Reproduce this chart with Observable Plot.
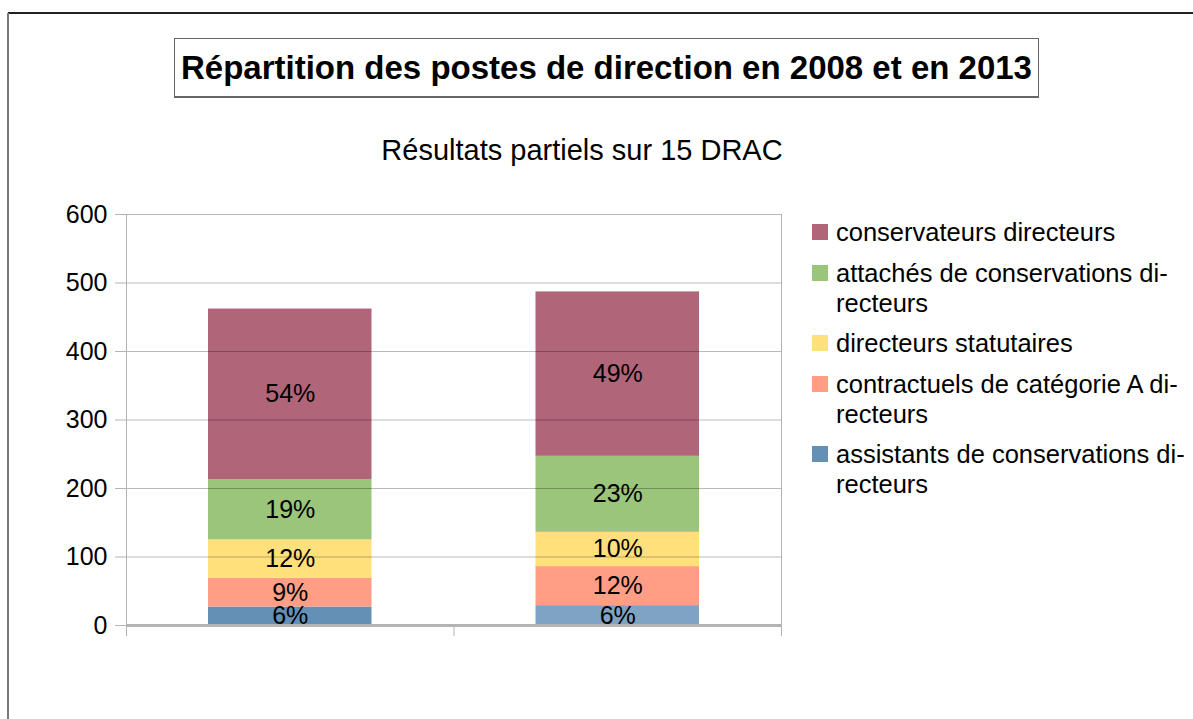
<!DOCTYPE html>
<html><head><meta charset="utf-8">
<script src="https://cdn.jsdelivr.net/npm/d3@7"></script>
<script src="https://cdn.jsdelivr.net/npm/@observablehq/plot@0.6"></script>
<style>
body{margin:0;background:#fff;font-family:"Liberation Sans",Arial,sans-serif;}
#wrap{position:relative;width:1193px;height:719px;overflow:hidden;background:#fff;}
#frameTop{position:absolute;left:8px;top:12px;width:1185px;height:0;border-top:2px solid #222;}
#frameLeft{position:absolute;left:7px;top:13px;width:0;height:710px;border-left:2px solid #7a7a7a;}
#title{position:absolute;left:174px;top:38px;width:863px;height:57px;border:1px solid #666;border-bottom:2px solid #666;
  font-weight:bold;font-size:33px;line-height:57px;text-align:center;color:#000;}
#subtitle{position:absolute;left:0;width:1164px;top:133px;text-align:center;font-size:29px;line-height:34px;color:#000;}
#chart{position:absolute;left:0;top:190px;}
#legend{position:absolute;left:812px;top:217px;}
.item{position:relative;padding-left:24px;font-size:25.5px;line-height:30px;margin-bottom:10.5px;color:#000;white-space:nowrap;}
.sw{position:absolute;left:0;top:7px;width:16px;height:16px;}
</style></head><body>
<div id="wrap">
  <div id="frameTop"></div><div id="frameLeft"></div>
  <div id="title">Répartition des postes de direction en 2008 et en 2013</div>
  <div id="subtitle">Résultats partiels sur 15 DRAC</div>
  <div id="chart"></div>
  <div id="legend"></div>
</div>
<script>
const years = ["2008", "2013"];
const categories = [
  "assistants de conservations directeurs",
  "contractuels de catégorie A directeurs",
  "directeurs statutaires",
  "attachés de conservations directeurs",
  "conservateurs directeurs"
];
const legendLines = [
  ["assistants de conservations di-", "recteurs"],
  ["contractuels de catégorie A di-", "recteurs"],
  ["directeurs statutaires"],
  ["attachés de conservations di-", "recteurs"],
  ["conservateurs directeurs"]
];
const values2008 = [27, 42, 56, 88, 249];
const values2013 = [29, 57, 50, 111, 240];
const labels2008 = ["6%", "9%", "12%", "19%", "54%"];
const labels2013 = ["6%", "12%", "10%", "23%", "49%"];
const yTicks = [0, 100, 200, 300, 400, 500, 600];
const colors = ["#6590b6", "#ff9e85", "#ffe07a", "#9bc57a", "#b06579"];

const series = [values2008, values2013];
const seriesLabels = [labels2008, labels2013];
const rows = [];
years.forEach((yr, i) => {
  let acc = 0;
  categories.forEach((c, k) => {
    const v = series[i][k];
    rows.push({year: yr, i0: i, i1: i + 1, cat: c, k, y1: acc, y2: acc + v, label: seriesLabels[i][k]});
    acc += v;
  });
});

const grid = "#b3b3b3";
const chart = Plot.plot({
  width: 800, height: 470,
  marginLeft: 126, marginRight: 19, marginTop: 24, marginBottom: 35,
  style: {fontFamily: "Liberation Sans, Arial, sans-serif", background: "transparent"},
  x: {type: "linear", domain: [0, 2], axis: null},
  y: {domain: [0, 600], axis: null},
  color: {domain: categories, range: colors},
  marks: [
    Plot.rect(rows, {x1: "i0", x2: "i1", y1: "y1", y2: "y2", fill: "cat",
      fillOpacity: d => (d.year === "2013" && d.k === 0 ? 0.83 : 1),
      insetLeft: 82, insetRight: 82}),
    Plot.ruleY(yTicks.filter(t => t > 0), {stroke: "#000", strokeOpacity: 0.27}),
    Plot.ruleY(yTicks, {x1: 0, x2: 0, insetLeft: -11, stroke: grid}),
    Plot.ruleX([0, 2], {y1: 600, y2: 0, insetBottom: -11, stroke: grid}),
    Plot.ruleX([1], {y1: 0, y2: 0, insetBottom: -11, stroke: grid}),
    Plot.ruleY([0], {stroke: grid, strokeWidth: 3}),
    Plot.axisY(yTicks, {tickSize: 0, tickPadding: 19, fontSize: 25, fill: "#000", label: null}),
    Plot.text(rows, {x: d => d.i0 + 0.5, y: d => (d.y1 + d.y2) / 2, text: "label", fontSize: 25, fill: "#000"})
  ]
});
document.getElementById("chart").appendChild(chart);

const legend = d3.select("#legend");
for (let k = categories.length - 1; k >= 0; k--) {
  const it = legend.append("div").attr("class", "item");
  it.append("div").attr("class", "sw").style("background", colors[k]);
  it.append("div").html(legendLines[k].join("<br>"));
}
</script>
</body></html>
